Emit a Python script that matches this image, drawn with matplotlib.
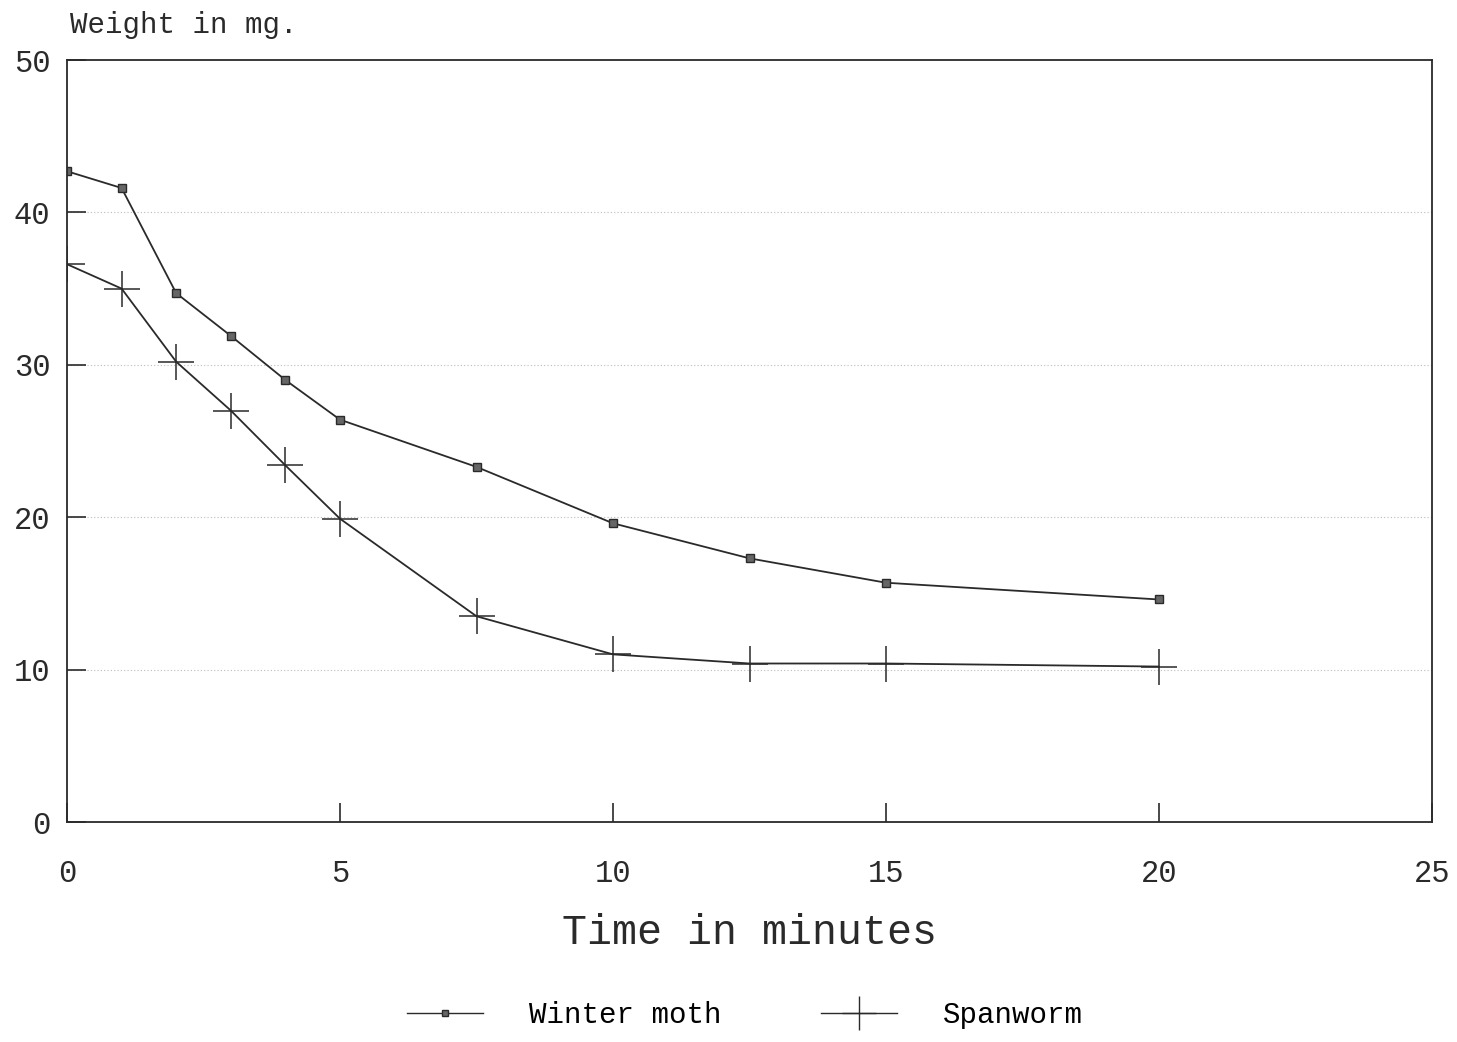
import matplotlib
matplotlib.use("Agg")
import matplotlib.pyplot as plt
from matplotlib.lines import Line2D

time_min = [0, 1, 2, 3, 4, 5, 7.5, 10, 12.5, 15, 20]
winter_moth = [42.7, 41.6, 34.7, 31.9, 29.0, 26.4, 23.3, 19.6, 17.3, 15.7, 14.6]
spanworm = [36.6, 35.0, 30.2, 27.0, 23.4, 19.9, 13.5, 11.0, 10.4, 10.4, 10.2]
x_ticks = [0, 5, 10, 15, 20, 25]
y_ticks = [0, 10, 20, 30, 40, 50]

plt.rcParams['font.family'] = ['Liberation Mono', 'DejaVu Sans Mono']

fig = plt.figure(figsize=(14.57, 10.42), dpi=100)
ax = fig.add_axes([67/1457, 220/1042, 1365/1457, 762/1042])

ax.plot(time_min, winter_moth, color='#2a2a2a', lw=1.3, marker='s', ms=6,
        mfc='#666666', mec='#2a2a2a', mew=1)
ax.plot(time_min, spanworm, color='#2a2a2a', lw=1.3, marker='+', ms=26, mew=1.1)

ax.set_xlim(0, 25)
ax.set_ylim(0, 50)
ax.set_xticks(x_ticks)
ax.set_yticks(y_ticks)
ax.set_xticklabels([str(v) for v in x_ticks])
ax.set_yticklabels([str(v) for v in y_ticks])
ax.tick_params(direction='in', length=14, width=1.2, labelsize=22, colors='#2a2a2a')
ax.tick_params(axis='x', pad=27)
ax.tick_params(axis='y', pad=12)
for s in ax.spines.values():
    s.set_color('#2a2a2a')
    s.set_linewidth(1.3)
for yv in y_ticks[1:-1]:
    ax.axhline(yv, color='#bbbbbb', lw=0.8, ls=(0, (1, 2)), zorder=0)

fig.text(70/1457, 1 - 25/1042, 'Weight in mg.', fontsize=21, color='#2a2a2a',
         ha='left', va='center')
ax.set_xlabel('Time in minutes', fontsize=30, color='#2a2a2a', labelpad=17)

handles = [Line2D([], [], color='#2a2a2a', lw=1.0, marker='s', ms=5, mfc='#666666'),
           Line2D([], [], color='#2a2a2a', lw=1.0, marker='+', ms=24, mew=1)]
fig.legend(handles, ['Winter moth', 'Spanworm'], loc='center', ncol=2,
           bbox_to_anchor=(745/1457, 1 - 1015/1042), frameon=False, fontsize=21,
           handlelength=2.6, columnspacing=3.4, handletextpad=1.6)

fig.savefig('out.png', dpi=100)
